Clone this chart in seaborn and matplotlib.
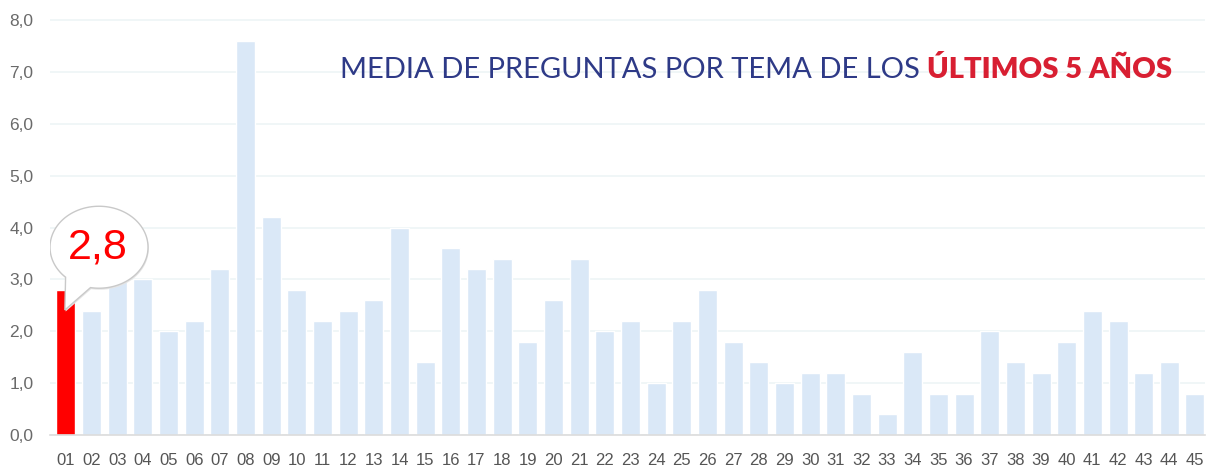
import numpy as np
import pandas as pd
import matplotlib
matplotlib.use("Agg")
import matplotlib.pyplot as plt
import seaborn as sns
from matplotlib.patches import Polygon

temas = [f"{i:02d}" for i in range(1, 46)]
media = [2.8, 2.4, 3.0, 3.0, 2.0, 2.2, 3.2, 7.6, 4.2, 2.8,
         2.2, 2.4, 2.6, 4.0, 1.4, 3.6, 3.2, 3.4, 1.8, 2.6,
         3.4, 2.0, 2.2, 1.0, 2.2, 2.8, 1.8, 1.4, 1.0, 1.2,
         1.2, 0.8, 0.4, 1.6, 0.8, 0.8, 2.0, 1.4, 1.2, 1.8,
         2.4, 2.2, 1.2, 1.4, 0.8]
yticks = [0, 1, 2, 3, 4, 5, 6, 7, 8]
title_a = "MEDIA DE PREGUNTAS POR TEMA DE LOS "
title_b = "ÚLTIMOS 5 AÑOS"
highlight = "01"
callout = "2,8"

sns.set_theme(style="white")
plt.rcParams['font.family'] = ['Liberation Sans', 'DejaVu Sans']

df = pd.DataFrame({"tema": temas, "media": media})
palette = {t: ("#ff0000" if t == highlight else "#dae8f7") for t in temas}

W, H = 1213, 473
fig = plt.figure(figsize=(W / 100, H / 100), dpi=100)
ax = fig.add_axes([50 / W, 38 / H, (1205 - 50) / W, (435 - 19) / H])

sns.barplot(data=df, x="tema", y="media", hue="tema", palette=palette,
            legend=False, width=0.74, ax=ax, saturation=1)

ax.set_xlim(-0.62, 44.39)
ax.set_ylim(0, 8.02)
ax.set_yticks(yticks)
ax.set_yticklabels([f"{v:.1f}".replace(".", ",") for v in yticks])
ax.yaxis.grid(True, color="#eef5f6", linewidth=1.2)
ax.set_axisbelow(True)
ax.set_xlabel("")
ax.set_ylabel("")
for s in ["top", "right", "left"]:
    ax.spines[s].set_visible(False)
ax.spines["bottom"].set_color("#dcdcdc")
ax.spines["bottom"].set_linewidth(1.2)
ax.tick_params(axis="y", length=0, pad=12, labelsize=12.5, labelcolor="#6a6a6a")
ax.tick_params(axis="x", length=0, pad=13, labelsize=12, labelcolor="#555555")

# speech bubble callout
cx, cy, a, b = 1.29, 3.62, 1.91, 0.79
t = np.linspace(np.deg2rad(260), np.deg2rad(227) + 2 * np.pi, 200)
pts = np.column_stack([cx + a * np.cos(t), cy + b * np.sin(t)])
tip = np.array([[-0.04, 2.41]])
poly = np.vstack([pts, tip])
ax.add_patch(Polygon(poly + np.array([0.03, -0.03]), closed=True, facecolor="#e6e6e6",
                     edgecolor="none", zorder=4))
ax.add_patch(Polygon(poly, closed=True, facecolor="white", edgecolor="#c9c9c9",
                     linewidth=1.0, zorder=5))
ax.text(cx - 0.03, cy, callout, color="#ff0000", fontsize=31, ha="center",
        va="center", zorder=6)

# title
t1 = fig.text(340 / W, 1 - 78 / H, title_a, color="#2e3a87", fontsize=21,
              family="Lato", fontweight="normal", ha="left", va="baseline")
ax.annotate(title_b, xy=(1, 0), xycoords=t1, va="bottom", ha="left",
            color="#d81f32", fontsize=21, family="Lato", fontweight="heavy")

fig.savefig("out.png", dpi=100)
